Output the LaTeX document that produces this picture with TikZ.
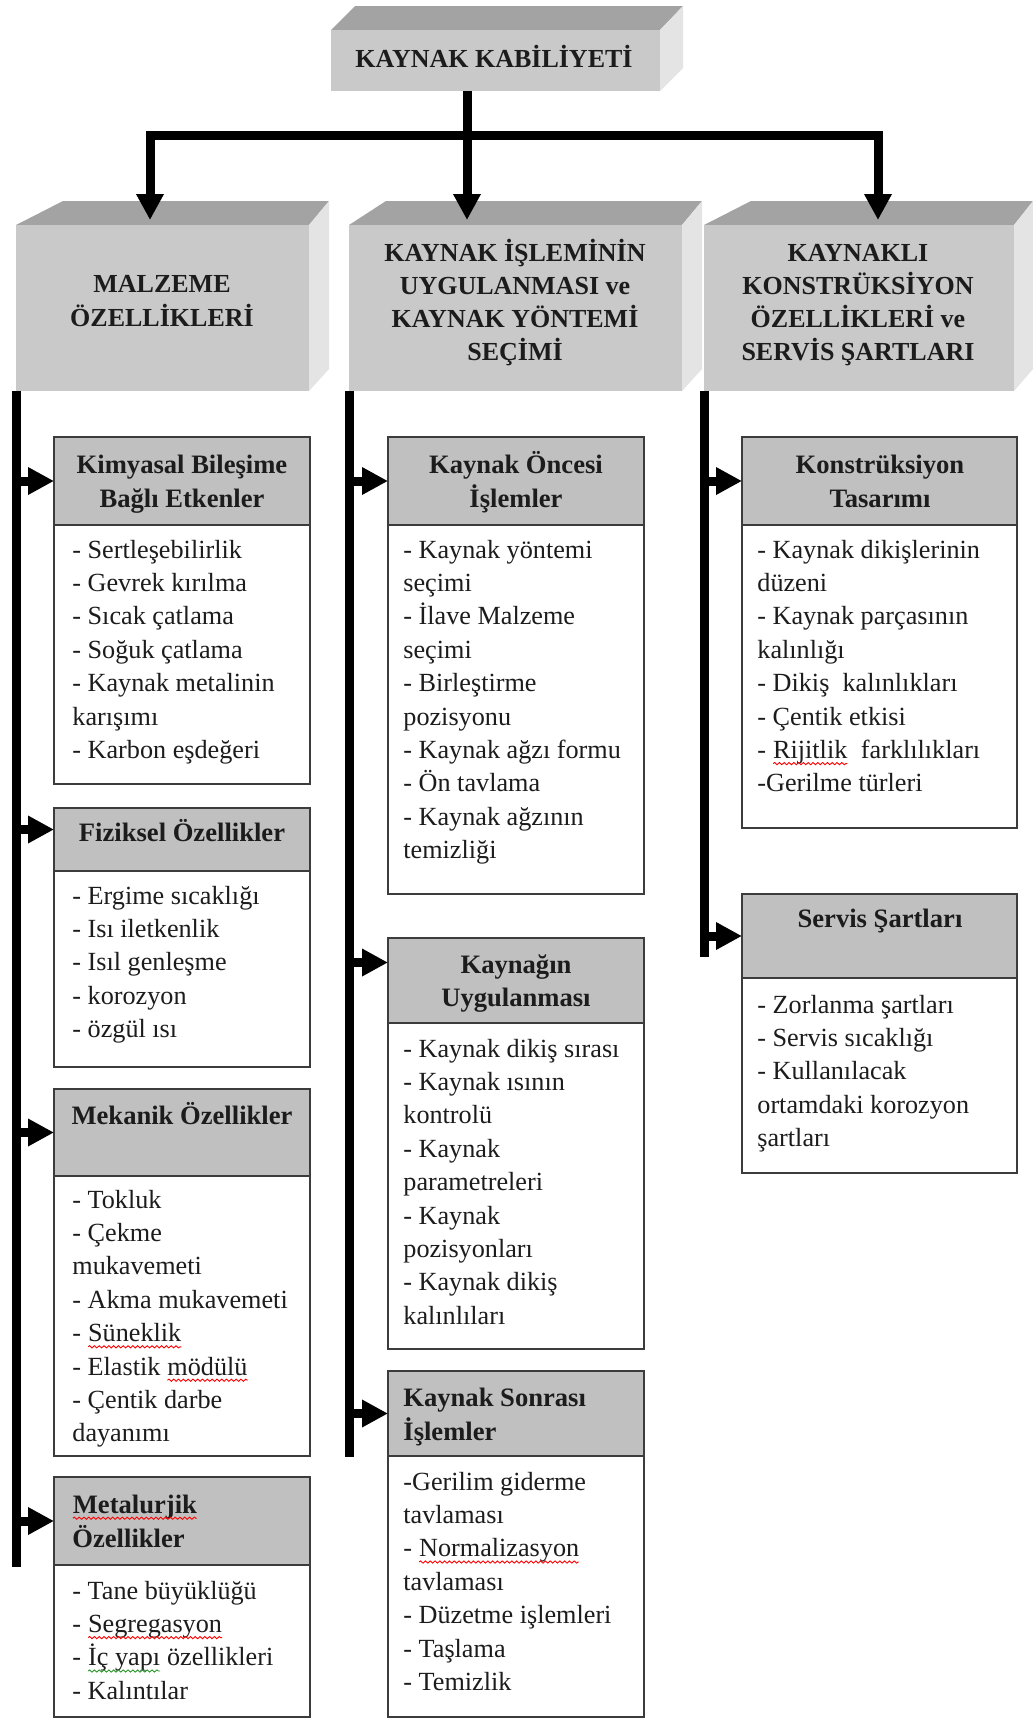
\documentclass[tikz,border=0pt]{standalone}
\usepackage{fontspec}
\setmainfont{Liberation Serif}
\usetikzlibrary{arrows.meta,fit,decorations.pathmorphing}

\definecolor{facefront}{RGB}{201,201,201}
\definecolor{facetop}{RGB}{163,163,163}
\definecolor{faceside}{RGB}{228,228,228}
\definecolor{hdrfill}{RGB}{192,192,192}
\definecolor{boxline}{RGB}{60,60,60}
\definecolor{ink}{RGB}{28,28,28}
\definecolor{spellgreen}{RGB}{40,150,40}

\tikzset{
  conn/.style={line width=4.5pt, black, line join=miter},
  tip/.style={-{Triangle[length=13pt,width=13pt]}},
  bothtips/.style={{Triangle[length=13pt,width=13pt]}-{Triangle[length=13pt,width=13pt]}},
  front/.style={fill=facefront, draw=none, inner sep=0pt, outer sep=0pt},
  topface/.style={fill=facetop},
  sideface/.style={fill=faceside},
  hdr/.style={fill=hdrfill, draw=boxline, line width=1.1pt, inner sep=0pt, outer sep=0pt},
  bodybox/.style={fill=white, draw=boxline, line width=1.1pt, inner sep=0pt, outer sep=0pt},
  bigtxt/.style={font=\bfseries\fontsize{13}{15}\selectfont, text=ink, inner sep=0pt, anchor=base},
  htxt/.style={font=\bfseries\fontsize{13.3}{15}\selectfont, text=ink, inner sep=0pt, anchor=base},
  htxtl/.style={font=\bfseries\fontsize{13.3}{15}\selectfont, text=ink, inner sep=0pt, anchor=base west},
  btxt/.style={font=\fontsize{13.1}{15}\selectfont, text=ink, inner sep=0pt, anchor=base west},
}

\newcommand\wavy[2][red]{\tikz[baseline=0pt,x=1pt,y=1pt]{\node[inner sep=0pt,outer sep=0pt,anchor=base west] (wv) at (0,0) {#2};\draw[#1,line width=0.45pt,decorate,decoration={snake,amplitude=0.55pt,segment length=2.4pt}] (0,-2.6) -- (wv.base east |- 0,-2.6);}}

\newcommand\bodytext[4]{%
  \foreach \t [count=\i] in {#4} {\node[btxt] (#1\i) at (#2, {#3+(\i-1)*33.4}) {\t};}%
}

\begin{document}
\begin{tikzpicture}[x=0.5pt,y=-0.5pt]
\useasboundingbox[fill=white] (0,0) rectangle (1033,1720);

% ---------- top box
\fill[topface] (331,30) -- (355,6) -- (683,6) -- (660,30) -- cycle;
\fill[sideface] (660,30) -- (683,6) -- (683,68) -- (660,91) -- cycle;
\node[front, fit={(331,30) (660,91)}] (top) {};
\node[bigtxt] (toptxt) at (494,67) {KAYNAK KABİLİYETİ};

% ---------- big boxes
\fill[topface] (16,225) -- (63,201) -- (329,201) -- (309,225) -- cycle;
\fill[sideface] (309,225) -- (329,201) -- (329,369) -- (309,391) -- cycle;
\node[front, fit={(16,225) (309,391)}] (bigL) {};
\node[bigtxt] (bigLt1) at (162,292) {MALZEME};
\node[bigtxt] (bigLt2) at (162,326) {ÖZELLİKLERİ};

\fill[topface] (349,225) -- (386,201) -- (702,201) -- (682,225) -- cycle;
\fill[sideface] (682,225) -- (702,201) -- (702,369) -- (682,391) -- cycle;
\node[front, fit={(349,225) (682,391)}] (bigM) {};
\node[bigtxt] (bigMt1) at (515,261) {KAYNAK İŞLEMİNİN};
\node[bigtxt] (bigMt2) at (515,294) {UYGULANMASI ve};
\node[bigtxt] (bigMt3) at (515,327) {KAYNAK YÖNTEMİ};
\node[bigtxt] (bigMt4) at (515,360) {SEÇİMİ};

\fill[topface] (704,225) -- (751,201) -- (1033,201) -- (1014,225) -- cycle;
\fill[sideface] (1014,225) -- (1033,201) -- (1033,369) -- (1014,391) -- cycle;
\node[front, fit={(704,225) (1014,391)}] (bigR) {};
\node[bigtxt] (bigRt1) at (858,261) {KAYNAKLI};
\node[bigtxt] (bigRt2) at (858,294) {KONSTRÜKSİYON};
\node[bigtxt] (bigRt3) at (858,327) {ÖZELLİKLERİ ve};
\node[bigtxt] (bigRt4) at (858,360) {SERVİS ŞARTLARI};

% ---------- top connectors
\coordinate (junc) at (467,135);
\draw[conn, tip, shorten >=2.5pt] (467,0 |- top.south) -- (467,0 |- bigM.north);
\draw[conn, bothtips, shorten <=2.5pt, shorten >=2.5pt]
  (150,0 |- bigL.north) |- (junc) -| (878,0 |- bigR.north);

% ---------- left column boxes
\node[bodybox, fit={(54,525) (310,784)}] (kimb) {};
\node[hdr, fit={(54,437) (310,525)}] (kimh) {};
\node[htxt] (kimt1) at (182,473) {Kimyasal Bileşime};
\node[htxt] (kimt2) at (182,507) {Bağlı Etkenler};
\bodytext{kim}{72}{558}{- Sertleşebilirlik,- Gevrek kırılma,- Sıcak çatlama,- Soğuk çatlama,- Kaynak metalinin,karışımı,- Karbon eşdeğeri}

\node[bodybox, fit={(54,871) (310,1067)}] (fizb) {};
\node[hdr, fit={(54,808) (310,871)}] (fizh) {};
\node[htxt] (fizt1) at (182,841) {Fiziksel Özellikler};
\bodytext{fiz}{72}{904}{- Ergime sıcaklığı,- Isı iletkenlik,- Isıl genleşme,- korozyon,- özgül ısı}

\node[bodybox, fit={(54,1176) (310,1456)}] (mekb) {};
\node[hdr, fit={(54,1089) (310,1176)}] (mekh) {};
\node[htxt] (mekt1) at (182,1124) {Mekanik Özellikler};
\bodytext{mek}{72}{1208}{- Tokluk,- Çekme,mukavemeti,- Akma mukavemeti,- \wavy{Süneklik},- Elastik \wavy{mödülü},- Çentik darbe,dayanımı}

\node[bodybox, fit={(54,1565) (310,1717)}] (metb) {};
\node[hdr, fit={(54,1477) (310,1565)}] (meth) {};
\node[htxtl] (mett1) at (72,1513) {\wavy{Metalurjik}};
\node[htxtl] (mett2) at (72,1547) {Özellikler};
\bodytext{met}{72}{1599}{- Tane büyüklüğü,- \wavy{Segregasyon},- \wavy[spellgreen]{İç yapı} özellikleri,- Kalıntılar}

% ---------- middle column boxes
\node[bodybox, fit={(388,525) (644,894)}] (oncb) {};
\node[hdr, fit={(388,437) (644,525)}] (onch) {};
\node[htxt] (onct1) at (516,473) {Kaynak Öncesi};
\node[htxt] (onct2) at (516,507) {İşlemler};
\bodytext{onc}{403}{558}{- Kaynak yöntemi,seçimi,- İlave Malzeme,seçimi,- Birleştirme,pozisyonu,- Kaynak ağzı formu,- Ön tavlama,- Kaynak ağzının,temizliği}

\node[bodybox, fit={(388,1023) (644,1349)}] (uygb) {};
\node[hdr, fit={(388,938) (644,1023)}] (uygh) {};
\node[htxt] (uygt1) at (516,973) {Kaynağın};
\node[htxt] (uygt2) at (516,1006) {Uygulanması};
\bodytext{uyg}{403}{1057}{- Kaynak dikiş sırası,- Kaynak ısının,kontrolü,- Kaynak,parametreleri,- Kaynak,pozisyonları,- Kaynak dikiş,kalınlıları}

\node[bodybox, fit={(388,1456) (644,1717)}] (sonb) {};
\node[hdr, fit={(388,1371) (644,1456)}] (sonh) {};
\node[htxtl] (sont1) at (403,1406) {Kaynak Sonrası};
\node[htxtl] (sont2) at (403,1440) {İşlemler};
\bodytext{son}{403}{1490}{-Gerilim giderme,tavlaması,- \wavy{Normalizasyon},tavlaması,- Düzetme işlemleri,- Taşlama,- Temizlik}

% ---------- right column boxes
\node[bodybox, fit={(742,525) (1017,828)}] (konb) {};
\node[hdr, fit={(742,437) (1017,525)}] (konh) {};
\node[htxt] (kont1) at (880,473) {Konstrüksiyon};
\node[htxt] (kont2) at (880,507) {Tasarımı};
\bodytext{kon}{757}{558}{- Kaynak dikişlerinin,düzeni,- Kaynak parçasının,kalınlığı,- Dikiş~ kalınlıkları,- Çentik etkisi,- \wavy{Rijitlik}~ farklılıkları,-Gerilme türleri}

\node[bodybox, fit={(742,978) (1017,1173)}] (serb) {};
\node[hdr, fit={(742,894) (1017,978)}] (serh) {};
\node[htxt] (sert1) at (880,927) {Servis Şartları};
\bodytext{ser}{757}{1013}{- Zorlanma şartları,- Servis sıcaklığı,- Kullanılacak,ortamdaki korozyon,şartları}

% ---------- spines
\coordinate (endL) at (16,1567);
\coordinate (endM) at (349,1457);
\coordinate (endR) at (704,957);
\draw[conn] (bigL.south west) -- (endL);
\draw[conn] (bigM.south west) -- (endM);
\draw[conn] (bigR.south west) -- (endR);

% ---------- branch arrows
\coordinate (fizA) at ([yshift=5pt]fizh.west);
\coordinate (uygA) at ([yshift=9pt]uygh.west);
\draw[conn, tip] (bigL.south west |- kimh.west) -- (kimh.west);
\draw[conn, tip] (bigL.south west |- fizA) -- (fizA);
\draw[conn, tip] (bigL.south west |- mekh.west) -- (mekh.west);
\draw[conn, tip] (bigL.south west |- meth.west) -- (meth.west);
\draw[conn, tip] (bigM.south west |- onch.west) -- (onch.west);
\draw[conn, tip] (bigM.south west |- uygA) -- (uygA);
\draw[conn, tip] (bigM.south west |- sonh.west) -- (sonh.west);
\draw[conn, tip] (bigR.south west |- konh.west) -- (konh.west);
\draw[conn, tip] (bigR.south west |- serh.west) -- (serh.west);
\end{tikzpicture}
\end{document}
